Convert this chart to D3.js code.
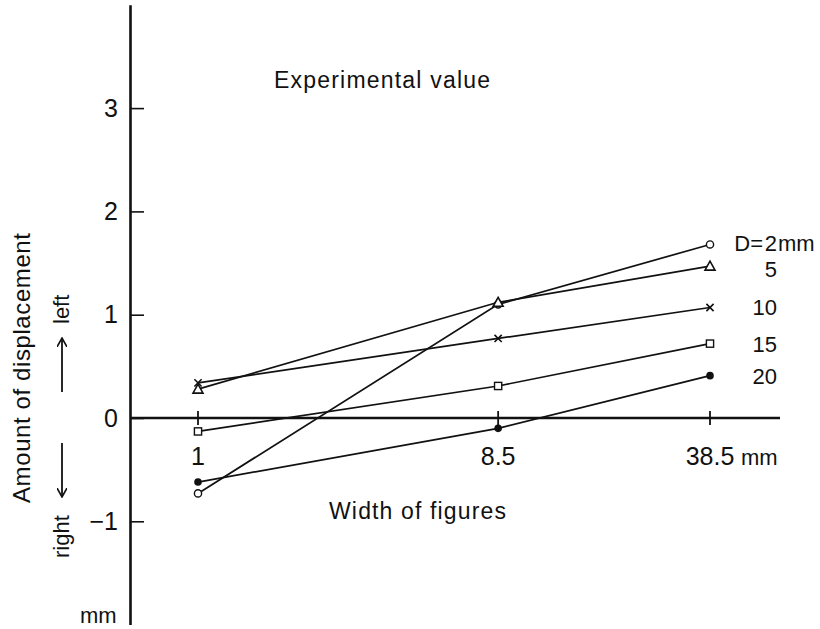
<!DOCTYPE html>
<html>
<head>
<meta charset="utf-8">
<script src="https://cdn.jsdelivr.net/npm/d3@7"></script>
<style>
  body { margin: 0; background: #fff; }
  svg { display: block; font-family: "Liberation Sans", Arial, sans-serif; }
  text { fill: #111; }
</style>
</head>
<body>
<svg id="chart" width="820" height="629"></svg>
<script>
// widths of figures (mm), x categories
var widths = [1, 8.5, 38.5]
var widthLabels = ['1', '8.5', '38.5']

// D (mm) for each series
var diameters = [2, 5, 10, 15, 20]
var symbols = ['circle', 'triangle', 'cross', 'square', 'dot']

// amount of displacement (mm), one array per D
var d2 = [-0.73, 1.10, 1.68]
var d5 = [0.28, 1.12, 1.47]
var d10 = [0.34, 0.77, 1.07]
var d15 = [-0.13, 0.31, 0.72]
var d20 = [-0.62, -0.10, 0.41]
var seriesValues = [d2, d5, d10, d15, d20]

var yTicks = [3, 2, 1, 0, -1]

var svg = d3.select('#chart')

var x = d3.scaleLog()
    .domain([1, 38.5])
    .range([198, 710])

var y = d3.scaleLinear()
    .domain([-2, 4])
    .range([624.6, 4.8])

var axisX = 130

// y axis, ticks pointing inward
var yAxis = svg.append('g')
    .attr('transform', 'translate(' + axisX + ',0)')
    .call(d3.axisLeft(y)
        .tickValues(yTicks)
        .tickSizeInner(-14)
        .tickSizeOuter(0)
        .tickPadding(12)
        .tickFormat(function(d) { return d < 0 ? '\u2212' + Math.abs(d) : d }))
yAxis.select('.domain').attr('stroke', '#111').attr('stroke-width', 2.6)
yAxis.selectAll('.tick line').attr('stroke', '#111').attr('stroke-width', 1.6)
yAxis.selectAll('.tick text')
    .attr('font-size', 25)
    .attr('fill', '#111')
    .attr('font-family', '"Liberation Sans", Arial, sans-serif')

// x axis (zero line)
svg.append('line')
    .attr('x1', axisX).attr('x2', 780)
    .attr('y1', y(0)).attr('y2', y(0))
    .attr('stroke', '#111').attr('stroke-width', 2.6)

svg.selectAll('.xtick')
    .data(widths)
    .enter().append('line')
    .attr('class', 'xtick')
    .attr('x1', function(d) { return x(d) }).attr('x2', function(d) { return x(d) })
    .attr('y1', y(0) - 7).attr('y2', y(0) + 7)
    .attr('stroke', '#111').attr('stroke-width', 1.8)

svg.selectAll('.xlabel')
    .data(widths)
    .enter().append('text')
    .attr('class', 'xlabel')
    .attr('x', function(d) { return x(d) })
    .attr('y', y(0) + 47)
    .attr('text-anchor', 'middle')
    .attr('font-size', 25)
    .text(function(d, i) { return widthLabels[i] })

svg.append('text')
    .attr('x', x(38.5) + 31)
    .attr('y', y(0) + 47)
    .attr('font-size', 22)
    .text('mm')

// lines
var line = d3.line()
    .x(function(d, i) { return x(widths[i]) })
    .y(function(d) { return y(d) })

svg.selectAll('.series')
    .data(seriesValues)
    .enter().append('path')
    .attr('class', 'series')
    .attr('d', line)
    .attr('fill', 'none')
    .attr('stroke', '#111')
    .attr('stroke-width', 1.7)

// markers
function drawMarker(g, sym) {
    if (sym === 'circle') {
        g.append('circle').attr('r', 3.6).attr('fill', '#fff').attr('stroke', '#111').attr('stroke-width', 1.4)
    } else if (sym === 'dot') {
        g.append('circle').attr('r', 3.8).attr('fill', '#111')
    } else if (sym === 'square') {
        g.append('rect').attr('x', -3.6).attr('y', -3.6).attr('width', 7.2).attr('height', 7.2)
            .attr('fill', '#fff').attr('stroke', '#111').attr('stroke-width', 1.4)
    } else if (sym === 'triangle') {
        g.append('path').attr('d', 'M0,-5L5,4L-5,4Z')
            .attr('fill', '#fff').attr('stroke', '#111').attr('stroke-width', 1.6)
    } else if (sym === 'cross') {
        g.append('path').attr('d', 'M-3.6,-3.6L3.6,3.6M3.6,-3.6L-3.6,3.6')
            .attr('stroke', '#111').attr('stroke-width', 1.6)
    }
}

seriesValues.forEach(function(vals, s) {
    vals.forEach(function(v, i) {
        var g = svg.append('g')
            .attr('transform', 'translate(' + x(widths[i]) + ',' + y(v) + ')')
        drawMarker(g, symbols[s])
    })
})

// series labels at the right end
var labelX = 777
seriesValues.forEach(function(vals, s) {
    var ly = y(vals[vals.length - 1]) + (s === 0 ? 7 : s === 1 ? 11 : 8)
    svg.append('text')
        .attr('x', labelX)
        .attr('y', ly)
        .attr('text-anchor', 'end')
        .attr('font-size', 22)
        .text(diameters[s])
    if (s === 0) {
        svg.append('text')
            .attr('x', 763)
            .attr('y', ly)
            .attr('text-anchor', 'end')
            .attr('font-size', 22)
            .text('D=')
        svg.append('text')
            .attr('x', labelX + 1)
            .attr('y', ly)
            .attr('font-size', 22)
            .text('mm')
    }
})

// titles
svg.append('text')
    .attr('x', 274).attr('y', 88)
    .attr('font-size', 23)
    .attr('textLength', 216)
    .attr('lengthAdjust', 'spacing')
    .text('Experimental value')

svg.append('text')
    .attr('x', 329).attr('y', 519)
    .attr('font-size', 23)
    .attr('textLength', 177)
    .attr('lengthAdjust', 'spacing')
    .text('Width of figures')

svg.append('text')
    .attr('transform', 'translate(30,368) rotate(-90)')
    .attr('text-anchor', 'middle')
    .attr('font-size', 24)
    .attr('textLength', 270)
    .attr('lengthAdjust', 'spacing')
    .text('Amount of displacement')

svg.append('text')
    .attr('transform', 'translate(69,558) rotate(-90)')
    .attr('font-size', 22)
    .text('right')

svg.append('text')
    .attr('transform', 'translate(69,324) rotate(-90)')
    .attr('font-size', 22)
    .text('left')

// direction arrows
var defs = svg.append('defs')
defs.append('marker')
    .attr('id', 'head')
    .attr('viewBox', '0 0 10 10')
    .attr('refX', 9).attr('refY', 5)
    .attr('markerWidth', 10).attr('markerHeight', 10)
    .attr('markerUnits', 'userSpaceOnUse')
    .attr('orient', 'auto')
    .append('path')
    .attr('d', 'M0,0L9,5L0,10')
    .attr('fill', 'none')
    .attr('stroke', '#111')
    .attr('stroke-width', 1.6)

svg.append('line')
    .attr('x1', 62).attr('x2', 62)
    .attr('y1', 443).attr('y2', 497)
    .attr('stroke', '#111').attr('stroke-width', 1.8)
    .attr('marker-end', 'url(#head)')

svg.append('line')
    .attr('x1', 62).attr('x2', 62)
    .attr('y1', 392).attr('y2', 338)
    .attr('stroke', '#111').attr('stroke-width', 1.8)
    .attr('marker-end', 'url(#head)')

svg.append('text')
    .attr('x', 80).attr('y', 623)
    .attr('font-size', 22)
    .text('mm')
</script>
</body>
</html>
